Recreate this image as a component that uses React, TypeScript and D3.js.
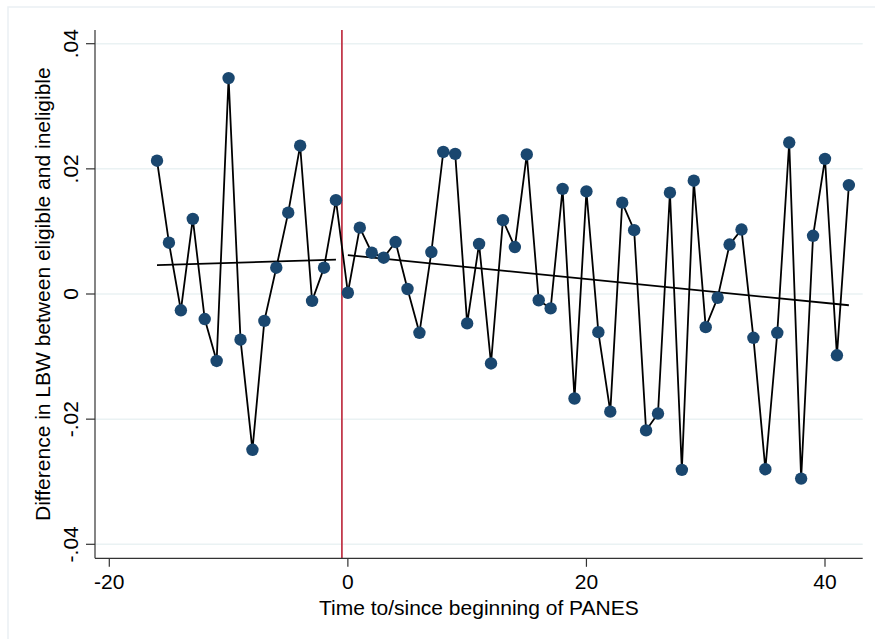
import * as d3 from 'd3'

// event time (months relative to PANES start)
const periods = [
  -16, -15, -14, -13, -12, -11, -10, -9, -8, -7, -6, -5, -4, -3, -2, -1,
  0, 1, 2, 3, 4, 5, 6, 7, 8, 9, 10, 11, 12, 13, 14, 15, 16, 17, 18, 19, 20,
  21, 22, 23, 24, 25, 26, 27, 28, 29, 30, 31, 32, 33, 34, 35, 36, 37, 38, 39,
  40, 41, 42,
]

// difference in LBW between eligible and ineligible
const diffLBW = [
  0.0213, 0.0082, -0.0026, 0.012, -0.004, -0.0107, 0.0345, -0.0073, -0.0249,
  -0.0043, 0.0042, 0.013, 0.0237, -0.0011, 0.0042, 0.015,
  0.0002, 0.0106, 0.0066, 0.0058, 0.0083, 0.0008, -0.0062, 0.0067, 0.0227,
  0.0224, -0.0047, 0.008, -0.0111, 0.0118, 0.0075, 0.0223, -0.001, -0.0023,
  0.0168, -0.0167, 0.0164, -0.0061, -0.0188, 0.0146, 0.0102, -0.0218, -0.0191,
  0.0162, -0.0281, 0.0181, -0.0053, -0.0006, 0.0079, 0.0103, -0.007, -0.028,
  -0.0062, 0.0242, -0.0295, 0.0093, 0.0216, -0.0098, 0.0174,
]

// linear fits (endpoints), before and after the start
const fitPre = [
  { t: -16, v: 0.0046 },
  { t: -1, v: 0.0055 },
]
const fitPost = [
  { t: 0, v: 0.0062 },
  { t: 42, v: -0.0018 },
]

const xTicks = [-20, 0, 20, 40]
const yTicks = [-0.04, -0.02, 0, 0.02, 0.04]
const yTickLabels = ['-.04', '-.02', '0', '.02', '.04']
const eventLine = -0.5

const W = 875
const H = 639
const FONT = '"Liberation Sans", Arial, Helvetica, sans-serif'

export default function App() {
  const left = 95
  const right = 862.7
  const top = 30
  const bottom = 558.3

  const x = d3.scaleLinear().domain([-20, 40]).range([109.3, 825])
  const y = d3.scaleLinear().domain([-0.04, 0.04]).range([544.3, 43.7])

  const points = periods.map((t, i) => ({ t, v: diffLBW[i] }))
  const line = d3
    .line<{ t: number; v: number }>()
    .x(d => x(d.t))
    .y(d => y(d.v))

  const midY = (top + bottom) / 2

  return (
    <svg
      width={W}
      height={H}
      style={{ position: 'absolute', left: 0, top: 0, background: '#fff' }}
      fontFamily={FONT}
    >
      {/* graph region frame */}
      <rect x={8} y={7} width={900} height={700} fill="none" stroke="#eaf0f3" strokeWidth={1.5} />

      {/* grid lines */}
      {yTicks.map(t => (
        <line key={t} x1={left} x2={right} y1={y(t)} y2={y(t)} stroke="#eaf2f3" strokeWidth={1.5} />
      ))}

      {/* start of PANES */}
      <line x1={x(eventLine)} x2={x(eventLine)} y1={top} y2={bottom} stroke="#c23a4c" strokeWidth={1.8} />

      {/* connected series */}
      <path d={line(points) ?? ''} fill="none" stroke="#000" strokeWidth={1.8} strokeLinejoin="miter" />

      {/* fit lines */}
      <path d={line(fitPre) ?? ''} fill="none" stroke="#000" strokeWidth={1.8} />
      <path d={line(fitPost) ?? ''} fill="none" stroke="#000" strokeWidth={1.8} />

      {points.map(d => (
        <circle key={d.t} cx={x(d.t)} cy={y(d.v)} r={6.2} fill="#1a476f" />
      ))}

      {/* axes */}
      <line x1={left} x2={left} y1={top} y2={bottom} stroke="#333" strokeWidth={1.2} />
      <line x1={left} x2={right} y1={bottom} y2={bottom} stroke="#333" strokeWidth={1.2} />

      {yTicks.map((t, i) => (
        <g key={t}>
          <line x1={left - 9} x2={left} y1={y(t)} y2={y(t)} stroke="#333" strokeWidth={1.2} />
          <text
            transform={`translate(78,${y(t)}) rotate(-90)`}
            textAnchor="middle"
            fontSize={21}
            fill="#000"
          >
            {yTickLabels[i]}
          </text>
        </g>
      ))}

      {xTicks.map(t => (
        <g key={t}>
          <line x1={x(t)} x2={x(t)} y1={bottom} y2={bottom + 8.5} stroke="#333" strokeWidth={1.2} />
          <text x={x(t)} y={589} textAnchor="middle" fontSize={21} fill="#000">
            {t}
          </text>
        </g>
      ))}

      <text x={(left + right) / 2} y={615} textAnchor="middle" fontSize={21} fill="#000">
        Time to/since beginning of PANES
      </text>
      <text
        transform={`translate(49.5,${midY}) rotate(-90)`}
        textAnchor="middle"
        fontSize={21}
        fill="#000"
      >
        Difference in LBW between eligible and ineligible
      </text>
    </svg>
  )
}
